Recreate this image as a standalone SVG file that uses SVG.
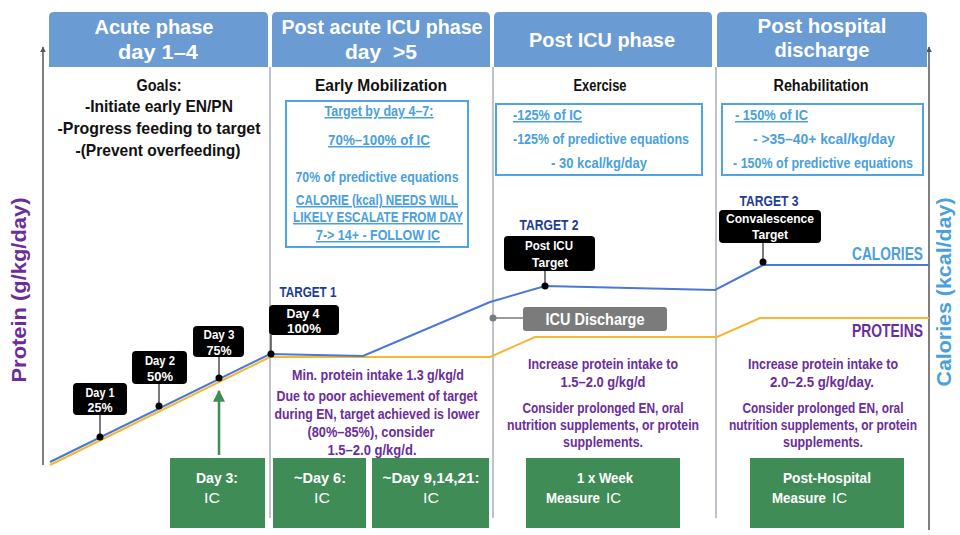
<svg xmlns="http://www.w3.org/2000/svg" width="960" height="535" viewBox="0 0 960 535">
<defs>
<style>
text{font-family:"Liberation Sans",Arial,Helvetica,sans-serif;font-weight:bold;}
.hd{fill:#fff;font-size:21px;text-anchor:middle}
.sub{fill:#111;font-size:16px;text-anchor:middle}
.goal{fill:#111;font-size:17px;text-anchor:middle}
.bl{fill:#4a9fdc;font-size:15px}
.mid{text-anchor:middle}
.pu{fill:#6a2d9a;font-size:15px;text-anchor:middle}
.sm{font-size:14px}
.tg{fill:#1e3c96;font-size:14px;text-anchor:middle}
.bk{fill:#fff;font-size:13.5px;text-anchor:middle}
.gr{fill:#fff;font-size:15px;text-anchor:middle}
.st{text-anchor:start}
.reg{font-weight:normal}
.hdbox{fill:#6b9bd3}
.div{stroke:#a9aeb8;stroke-width:1.5;fill:none}
.ax{stroke:#555;stroke-width:1.5;fill:none}
.bbox{fill:#000}
.gbox{fill:#3f8c57}
.tbox{fill:none;stroke:#4fa3e3;stroke-width:2}
.dot{fill:#000}
.conn{stroke:#222;stroke-width:1.2}
.u{text-decoration:underline}
</style>
<marker id="ah" viewBox="0 0 10 10" refX="9" refY="5" markerWidth="6" markerHeight="6" orient="auto" markerUnits="userSpaceOnUse">
<path d="M0,0 L10,5 L0,10 Z" fill="#555"/>
</marker>
<marker id="gah" viewBox="0 0 10 10" refX="9" refY="5" markerWidth="12" markerHeight="12" orient="auto" markerUnits="userSpaceOnUse">
<path d="M0,0 L10,5 L0,10 Z" fill="#3f8c57"/>
</marker>
</defs>
<rect width="960" height="535" fill="#fff"/>

<g id="axes">
<line class="ax" x1="43" y1="465" x2="43" y2="47" marker-end="url(#ah)"/>
<line class="ax" x1="929" y1="530" x2="929" y2="47" marker-end="url(#ah)"/>
<text x="26" y="290" transform="rotate(-90 26 290)" style="fill:#6a2d9a;font-size:20px;text-anchor:middle" textLength="185" lengthAdjust="spacingAndGlyphs">Protein (g/kg/day)</text>
<text x="951" y="292" transform="rotate(-90 951 292)" style="fill:#4a9fdc;font-size:20px;text-anchor:middle" textLength="189" lengthAdjust="spacingAndGlyphs">Calories (kcal/day)</text>
</g>

<g id="dividers">
<line class="div" x1="270" y1="67" x2="270" y2="518"/>
<line class="div" x1="493" y1="67" x2="493" y2="518"/>
<line class="div" x1="716" y1="67" x2="716" y2="518"/>
</g>

<g id="phase-acute">
<path class="hdbox" d="M49,67 V17 Q49,12 54,12 H263 Q268,12 268,17 V67 Z"/>
<text class="hd" x="154" y="34" textLength="119" lengthAdjust="spacingAndGlyphs">Acute phase</text>
<text class="hd" x="158" y="59" textLength="80" lengthAdjust="spacingAndGlyphs">day 1–4</text>
<text class="goal" x="159" y="91" textLength="45" lengthAdjust="spacingAndGlyphs">Goals:</text>
<text class="goal" x="159" y="112" textLength="148" lengthAdjust="spacingAndGlyphs">-Initiate early EN/PN</text>
<text class="goal" x="159" y="134" textLength="203" lengthAdjust="spacingAndGlyphs">-Progress feeding to target</text>
<text class="goal" x="158" y="156" textLength="165" lengthAdjust="spacingAndGlyphs">-(Prevent overfeeding)</text>
</g>

<g id="phase-postacute">
<path class="hdbox" d="M272,67 V17 Q272,12 277,12 H485 Q490,12 490,17 V67 Z"/>
<text class="hd" x="382" y="34" textLength="201" lengthAdjust="spacingAndGlyphs">Post acute ICU phase</text>
<text class="hd" x="381" y="59" xml:space="preserve" textLength="72" lengthAdjust="spacingAndGlyphs">day  &gt;5</text>
<text class="sub" x="381" y="91" textLength="132" lengthAdjust="spacingAndGlyphs">Early Mobilization</text>
<rect class="tbox" x="286" y="101" width="182" height="146"/>
<text class="bl mid u" x="379" y="116" textLength="109" lengthAdjust="spacingAndGlyphs">Target by day 4–7:</text>
<text class="bl mid u" x="379" y="145" textLength="102" lengthAdjust="spacingAndGlyphs">70%–100% of IC</text>
<text class="bl mid" x="377" y="182" textLength="163" lengthAdjust="spacingAndGlyphs">70% of predictive equations</text>
<text class="bl mid u" x="377" y="205" textLength="162" lengthAdjust="spacingAndGlyphs">CALORIE (kcal) NEEDS WILL</text>
<text class="bl mid u" x="378" y="222" textLength="170" lengthAdjust="spacingAndGlyphs">LIKELY ESCALATE FROM DAY</text>
<text class="bl mid u" x="378" y="240" textLength="124" lengthAdjust="spacingAndGlyphs">7-&gt; 14+ - FOLLOW IC</text>
<text class="pu" x="378" y="380" textLength="172" lengthAdjust="spacingAndGlyphs">Min. protein intake 1.3 g/kg/d</text>
<text class="pu" x="377" y="401" textLength="201" lengthAdjust="spacingAndGlyphs">Due to poor achievement of target</text>
<text class="pu" x="377" y="419" textLength="205" lengthAdjust="spacingAndGlyphs">during EN, target achieved is lower</text>
<text class="pu" x="371" y="437" textLength="127" lengthAdjust="spacingAndGlyphs">(80%–85%), consider</text>
<text class="pu" x="372" y="455" textLength="89" lengthAdjust="spacingAndGlyphs">1.5–2.0 g/kg/d.</text>
</g>

<g id="phase-posticu">
<path class="hdbox" d="M494,67 V17 Q494,12 499,12 H707 Q712,12 712,17 V67 Z"/>
<text class="hd" x="602" y="47" textLength="146" lengthAdjust="spacingAndGlyphs">Post ICU phase</text>
<text class="sub" x="600" y="91" textLength="53" lengthAdjust="spacingAndGlyphs">Exercise</text>
<rect class="tbox" x="496" y="104" width="206" height="71"/>
<text class="bl u" x="513" y="120" textLength="69" lengthAdjust="spacingAndGlyphs">-125% of IC</text>
<text class="bl" x="513" y="144" textLength="176" lengthAdjust="spacingAndGlyphs">-125% of predictive equations</text>
<text class="bl mid" x="599" y="168" textLength="96" lengthAdjust="spacingAndGlyphs">- 30 kcal/kg/day</text>
<text class="pu" x="603" y="369" textLength="150" lengthAdjust="spacingAndGlyphs">Increase protein intake to</text>
<text class="pu" x="603" y="387" textLength="85" lengthAdjust="spacingAndGlyphs">1.5–2.0 g/kg/d</text>
<text class="pu" x="603" y="413" textLength="161" lengthAdjust="spacingAndGlyphs">Consider prolonged EN, oral</text>
<text class="pu sm" x="603" y="430" textLength="192" lengthAdjust="spacingAndGlyphs">nutrition supplements, or protein</text>
<text class="pu" x="603" y="447" textLength="80" lengthAdjust="spacingAndGlyphs">supplements.</text>
</g>

<g id="phase-posthospital">
<path class="hdbox" d="M717,67 V17 Q717,12 722,12 H922 Q927,12 927,17 V67 Z"/>
<text class="hd" x="822" y="33" textLength="129" lengthAdjust="spacingAndGlyphs">Post hospital</text>
<text class="hd" x="822" y="57" textLength="95" lengthAdjust="spacingAndGlyphs">discharge</text>
<text class="sub" x="821" y="91" textLength="95" lengthAdjust="spacingAndGlyphs">Rehabilitation</text>
<rect class="tbox" x="722" y="104" width="201" height="71"/>
<text class="bl u" x="735" y="120" textLength="73" lengthAdjust="spacingAndGlyphs">- 150% of IC</text>
<text class="bl mid" x="824" y="144" textLength="142" lengthAdjust="spacingAndGlyphs">- &gt;35–40+ kcal/kg/day</text>
<text class="bl" x="733" y="168" textLength="180" lengthAdjust="spacingAndGlyphs">- 150% of predictive equations</text>
<text class="pu" x="823" y="369" textLength="150" lengthAdjust="spacingAndGlyphs">Increase protein intake to</text>
<text class="pu" x="822" y="387" textLength="104" lengthAdjust="spacingAndGlyphs">2.0–2.5 g/kg/day.</text>
<text class="pu" x="823" y="413" textLength="161" lengthAdjust="spacingAndGlyphs">Consider prolonged EN, oral</text>
<text class="pu sm" x="823" y="430" textLength="188" lengthAdjust="spacingAndGlyphs">nutrition supplements, or protein</text>
<text class="pu" x="823" y="447" textLength="80" lengthAdjust="spacingAndGlyphs">supplements.</text>
</g>

<g id="connectors">
<polyline fill="none" stroke="#f5b731" stroke-width="2" points="50,465 270,357 490,357 535,337 717,337 760,318 929,318"/>
<polyline fill="none" stroke="#4a78d4" stroke-width="2" points="50,462 270,354 363,356 490,302 545,286 715,290 763,265 929,265"/>
<line class="conn" x1="100" y1="415" x2="100" y2="437"/>
<line class="conn" x1="159" y1="384" x2="159" y2="406"/>
<line class="conn" x1="219" y1="357" x2="219" y2="378"/>
<line class="conn" x1="271" y1="335" x2="271" y2="354"/>
<line class="conn" x1="545" y1="271" x2="545" y2="286"/>
<line class="conn" x1="763" y1="243" x2="763" y2="262"/>
<line stroke="#7b7b7b" stroke-width="1.5" x1="493" y1="318" x2="523" y2="318"/>
<line stroke="#3f8c57" stroke-width="2.5" x1="219" y1="455" x2="219" y2="391" marker-end="url(#gah)"/>
<circle class="dot" cx="100" cy="437" r="3.5"/>
<circle class="dot" cx="159" cy="406" r="3.5"/>
<circle class="dot" cx="219" cy="378" r="3.5"/>
<circle class="dot" cx="271" cy="354" r="3.5"/>
<circle class="dot" cx="545" cy="286" r="3.5"/>
<circle class="dot" cx="763" cy="262" r="3.5"/>
<circle fill="#7b7b7b" cx="493" cy="318" r="3.5"/>
</g>

<g id="day1">
<rect class="bbox" x="73" y="383" width="54" height="32" rx="4"/>
<text class="bk" x="100" y="397" textLength="29" lengthAdjust="spacingAndGlyphs">Day 1</text>
<text class="bk" x="100" y="412" textLength="25" lengthAdjust="spacingAndGlyphs">25%</text>
</g>
<g id="day2">
<rect class="bbox" x="132" y="351" width="55" height="33" rx="4"/>
<text class="bk" x="160" y="365" textLength="30" lengthAdjust="spacingAndGlyphs">Day 2</text>
<text class="bk" x="160" y="381" textLength="26" lengthAdjust="spacingAndGlyphs">50%</text>
</g>
<g id="day3">
<rect class="bbox" x="193" y="326" width="51" height="31" rx="4"/>
<text class="bk" x="219" y="339" textLength="31" lengthAdjust="spacingAndGlyphs">Day 3</text>
<text class="bk" x="219" y="355" textLength="25" lengthAdjust="spacingAndGlyphs">75%</text>
</g>
<g id="target1">
<text class="tg" x="308" y="297" textLength="57" lengthAdjust="spacingAndGlyphs">TARGET 1</text>
<rect class="bbox" x="269" y="305" width="70" height="30" rx="4"/>
<text class="bk" x="303" y="318" textLength="33" lengthAdjust="spacingAndGlyphs">Day 4</text>
<text class="bk" x="304" y="333" textLength="34" lengthAdjust="spacingAndGlyphs">100%</text>
</g>
<g id="target2">
<text class="tg" x="549" y="230" textLength="59" lengthAdjust="spacingAndGlyphs">TARGET 2</text>
<rect class="bbox" x="504" y="236" width="91" height="35" rx="4"/>
<text class="bk" x="549" y="250" textLength="48" lengthAdjust="spacingAndGlyphs">Post ICU</text>
<text class="bk" x="550" y="267" textLength="36" lengthAdjust="spacingAndGlyphs">Target</text>
</g>
<g id="target3">
<text class="tg" x="769" y="206" textLength="59" lengthAdjust="spacingAndGlyphs">TARGET 3</text>
<rect class="bbox" x="719" y="210" width="102" height="33" rx="4"/>
<text class="bk" x="770" y="223" textLength="88" lengthAdjust="spacingAndGlyphs">Convalescence</text>
<text class="bk" x="770" y="239" textLength="36" lengthAdjust="spacingAndGlyphs">Target</text>
</g>
<g id="icu-discharge">
<rect x="523" y="307" width="144" height="24" rx="3" fill="#7b7b7b"/>
<text x="595" y="325" style="fill:#fff;font-size:16.5px;text-anchor:middle" textLength="99" lengthAdjust="spacingAndGlyphs">ICU Discharge</text>
</g>
<g id="series-labels">
<text x="923" y="260" style="fill:#4a9fdc;font-size:18px;text-anchor:end" textLength="71" lengthAdjust="spacingAndGlyphs">CALORIES</text>
<text x="923" y="337" style="fill:#6a2d9a;font-size:18px;text-anchor:end" textLength="71" lengthAdjust="spacingAndGlyphs">PROTEINS</text>
</g>

<g id="ic-day3">
<rect class="gbox" x="170" y="458" width="95" height="70"/>
<text class="gr" x="217" y="483" textLength="42" lengthAdjust="spacingAndGlyphs">Day 3:</text>
<text class="gr reg" x="212" y="503" textLength="16" lengthAdjust="spacingAndGlyphs">IC</text>
</g>
<g id="ic-day6">
<rect class="gbox" x="273" y="458" width="93" height="70"/>
<text class="gr" x="320" y="483" textLength="52" lengthAdjust="spacingAndGlyphs">~Day 6:</text>
<text class="gr reg" x="322" y="503" textLength="16" lengthAdjust="spacingAndGlyphs">IC</text>
</g>
<g id="ic-day9">
<rect class="gbox" x="372" y="458" width="117" height="70"/>
<text class="gr" x="431" y="483" textLength="97" lengthAdjust="spacingAndGlyphs">~Day 9,14,21:</text>
<text class="gr reg" x="431" y="503" textLength="16" lengthAdjust="spacingAndGlyphs">IC</text>
</g>
<g id="ic-week">
<rect class="gbox" x="526" y="458" width="154" height="70"/>
<text class="gr" x="605" y="483" textLength="56" lengthAdjust="spacingAndGlyphs">1 x Week</text>
<text class="gr st" x="546" y="503" textLength="54" lengthAdjust="spacingAndGlyphs">Measure</text>
<text class="gr st reg" x="606" y="503" textLength="15" lengthAdjust="spacingAndGlyphs">IC</text>
</g>
<g id="ic-posthospital">
<rect class="gbox" x="750" y="458" width="154" height="70"/>
<text class="gr" x="827" y="483" textLength="88" lengthAdjust="spacingAndGlyphs">Post-Hospital</text>
<text class="gr st" x="772" y="503" textLength="54" lengthAdjust="spacingAndGlyphs">Measure</text>
<text class="gr st reg" x="832" y="503" textLength="15" lengthAdjust="spacingAndGlyphs">IC</text>
</g>
</svg>
